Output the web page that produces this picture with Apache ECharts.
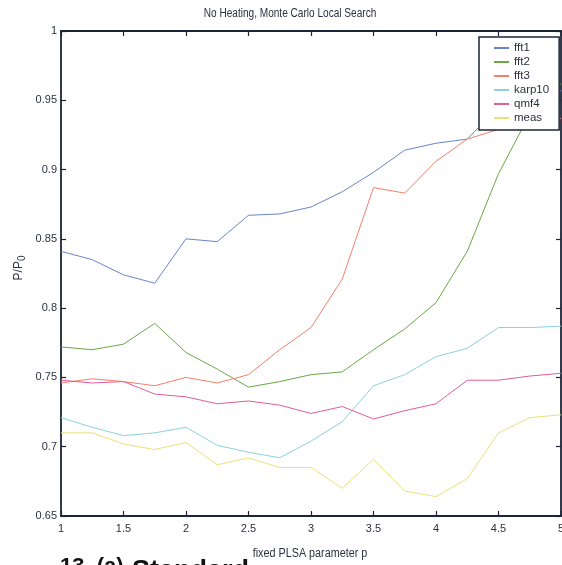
<!DOCTYPE html>
<html><head><meta charset="utf-8">
<script src="https://cdn.jsdelivr.net/npm/echarts@6/dist/echarts.min.js"></script>
<style>html,body{margin:0;padding:0;background:#fff;}#c{width:562px;height:565px;}</style>
</head><body><div id="c"></div>
<script>
var xs = [1,1.25,1.5,1.75,2,2.25,2.5,2.75,3,3.25,3.5,3.75,4,4.25,4.5,4.75,5];
var names = ['fft1','fft2','fft3','karp10','qmf4','meas'];
var fft1 =  [0.841,0.835,0.824,0.818,0.850,0.848,0.867,0.868,0.873,0.884,0.898,0.914,0.919,0.922,0.945,0.952,0.957];
var fft2 =  [0.772,0.770,0.774,0.789,0.768,0.756,0.743,0.747,0.752,0.754,0.770,0.785,0.804,0.841,0.897,0.940,0.962];
var fft3 =  [0.746,0.749,0.747,0.744,0.750,0.746,0.752,0.770,0.786,0.821,0.887,0.883,0.906,0.922,0.929,0.933,0.937];
var karp10 =[0.721,0.714,0.708,0.710,0.714,0.701,0.696,0.692,0.704,0.718,0.744,0.752,0.765,0.771,0.786,0.786,0.787];
var qmf4 =  [0.748,0.746,0.747,0.738,0.736,0.731,0.733,0.730,0.724,0.729,0.720,0.726,0.731,0.748,0.748,0.751,0.753];
var meas =  [0.710,0.710,0.702,0.698,0.703,0.687,0.692,0.685,0.685,0.670,0.691,0.668,0.664,0.677,0.710,0.721,0.723];
var values = [fft1,fft2,fft3,karp10,qmf4,meas];
var colors = ['#6b84c9','#6aa748','#f57f6b','#8cd1de','#e15c9a','#e9e27a'];

var FONT = '"Liberation Sans",Arial,sans-serif';
var AX = '#1c2536';
var TXT = '#2a3140';

var series = names.map(function(n,i){
  return {
    name:n, type:'line', xAxisIndex:0, yAxisIndex:0,
    data: xs.map(function(x,j){return [x, values[i][j]];}),
    symbol:'none', lineStyle:{color:colors[i], width:1}, itemStyle:{color:colors[i]},
    animation:false, z:2
  };
});

function axisBase(){
  return {
    axisLine:{show:true, onZero:false, lineStyle:{color:AX, width:1.8}},
    axisTick:{show:true, inside:true, length:5, lineStyle:{color:AX, width:1.2}},
    splitLine:{show:false}
  };
}
var xBottom = Object.assign(axisBase(), {type:'value', position:'bottom', min:1, max:5, interval:0.5,
  axisLabel:{color:TXT, fontSize:11, fontFamily:FONT, margin:7}});
var xTop = Object.assign(axisBase(), {type:'value', position:'top', min:1, max:5, interval:0.5, axisLabel:{show:false}});
var yLeft = Object.assign(axisBase(), {type:'value', position:'left', min:0.65, max:1, interval:0.05,
  axisLabel:{color:TXT, fontSize:11, fontFamily:FONT, margin:4}});
var yRight = Object.assign(axisBase(), {type:'value', position:'right', min:0.65, max:1, interval:0.05, axisLabel:{show:false}});

var chart = echarts.init(document.getElementById('c'), null, {renderer:'canvas'});
chart.setOption({
  animation:false,
  backgroundColor:'#ffffff',
  grid:{left:61, right:1, top:31, bottom:49, containLabel:false, outerBoundsMode:'none'},
  xAxis:[xBottom, xTop],
  yAxis:[yLeft, yRight],
  legend:{
    orient:'vertical', left:479, top:37,
    data: names,
    icon:'rect', itemWidth:15, itemHeight:2, itemGap:0,
    textStyle:{color:TXT, fontSize:11.5, fontFamily:FONT, lineHeight:14},
    backgroundColor:'#ffffff', borderColor:AX, borderWidth:1.5,
    padding:[4,10,5,15], z:10
  },
  graphic:[
    {type:'text', x:290, y:14, scaleX:0.84, style:{text:'No Heating, Monte Carlo Local Search', fill:TXT, font:'12px '+FONT, textAlign:'center', textVerticalAlign:'middle'}},
    {type:'text', x:310, y:554, scaleX:0.9, style:{text:'fixed PLSA parameter p', fill:TXT, font:'12px '+FONT, textAlign:'center', textVerticalAlign:'middle'}},
    {type:'text', x:19, y:268, rotation:Math.PI/2, style:{
      text:'P/P{s|0}', textAlign:'center', textVerticalAlign:'middle', fill:TXT, font:'12px '+FONT,
      rich:{s:{fontSize:10, fontFamily:FONT, fill:TXT, padding:[6,0,0,0]}}
    }},
    {type:'text', x:60, y:578, style:{text:'13. (a)', fill:'#111', font:'bold 22px "Liberation Sans",Arial,sans-serif', textAlign:'left', textVerticalAlign:'bottom'}},
    {type:'text', x:132, y:585, style:{text:'Standard', fill:'#111', font:'bold 27px "Liberation Sans",Arial,sans-serif', textAlign:'left', textVerticalAlign:'bottom'}}
  ],
  series: series
});
</script></body></html>
